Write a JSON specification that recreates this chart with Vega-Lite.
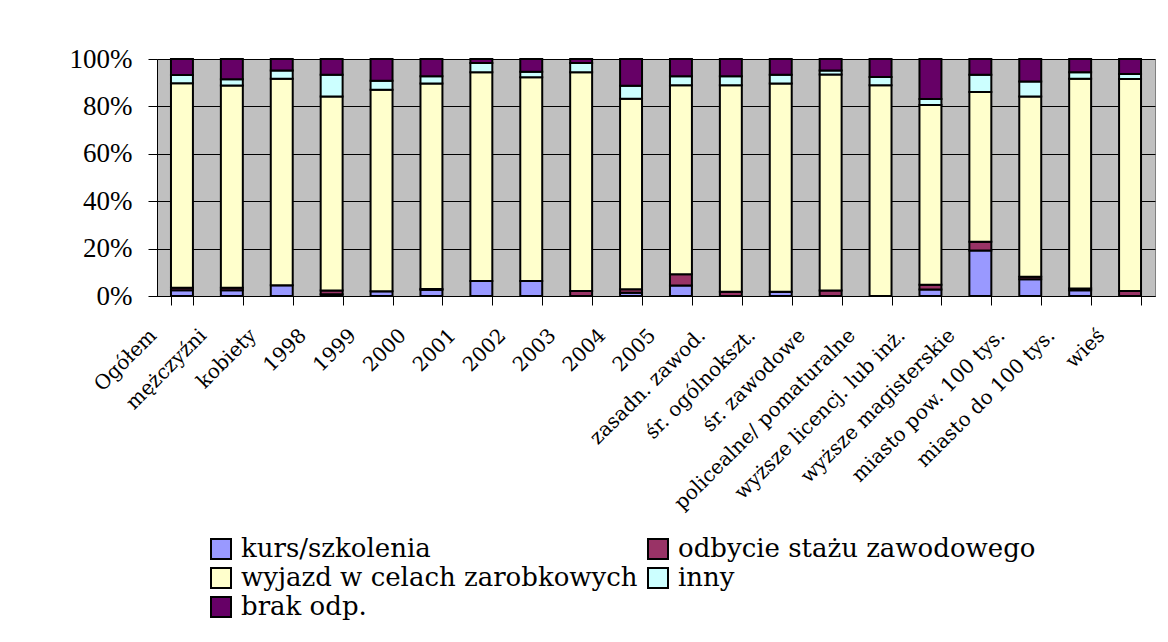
{
  "$schema": "https://vega.github.io/schema/vega-lite/v6.json",
  "width": 998,
  "height": 237,
  "autosize": {"type": "none"},
  "padding": {"left": 157, "top": 59, "right": 13, "bottom": 346},
  "background": "white",
  "datasets": {
    "rows": [
      {"grupa": "Ogółem", "k": 2.4, "o": 1.1, "w": 86.3, "i": 3.5, "b": 6.7},
      {"grupa": "mężczyźni", "k": 2.4, "o": 1.1, "w": 85.3, "i": 2.7, "b": 8.5},
      {"grupa": "kobiety", "k": 4.5, "o": 0, "w": 87.2, "i": 3.5, "b": 4.8},
      {"grupa": "1998", "k": 0.7, "o": 1.6, "w": 81.9, "i": 9.2, "b": 6.6},
      {"grupa": "1999", "k": 2.0, "o": 0, "w": 85.0, "i": 3.8, "b": 9.2},
      {"grupa": "2000", "k": 2.6, "o": 0.4, "w": 86.7, "i": 3.0, "b": 7.3},
      {"grupa": "2001", "k": 6.3, "o": 0, "w": 88.1, "i": 3.9, "b": 1.7},
      {"grupa": "2002", "k": 6.3, "o": 0, "w": 86.0, "i": 2.3, "b": 5.4},
      {"grupa": "2003", "k": 0, "o": 2.1, "w": 92.3, "i": 3.9, "b": 1.7},
      {"grupa": "2004", "k": 1.4, "o": 1.5, "w": 80.3, "i": 5.5, "b": 11.3},
      {"grupa": "2005", "k": 4.4, "o": 4.8, "w": 79.7, "i": 3.8, "b": 7.3},
      {"grupa": "zasadn. zawod.", "k": 0, "o": 1.8, "w": 87.1, "i": 3.8, "b": 7.3},
      {"grupa": "śr. ogólnokszt.", "k": 1.8, "o": 0, "w": 87.9, "i": 3.7, "b": 6.6},
      {"grupa": "śr. zawodowe", "k": 0, "o": 2.3, "w": 91.2, "i": 1.7, "b": 4.8},
      {"grupa": "policealne/ pomaturalne", "k": 0, "o": 0, "w": 88.9, "i": 3.5, "b": 7.6},
      {"grupa": "wyższe licencj. lub inż.", "k": 2.7, "o": 2.0, "w": 75.9, "i": 2.5, "b": 16.9},
      {"grupa": "wyższe magisterskie", "k": 19.2, "o": 3.7, "w": 63.2, "i": 7.3, "b": 6.6},
      {"grupa": "miasto pow. 100 tys.", "k": 7.1, "o": 1.0, "w": 76.1, "i": 6.3, "b": 9.5},
      {"grupa": "miasto do 100 tys.", "k": 2.4, "o": 0.8, "w": 88.5, "i": 2.7, "b": 5.6},
      {"grupa": "wieś", "k": 0, "o": 2.1, "w": 89.5, "i": 2.1, "b": 6.3}
    ],
    "serie": [
      {"key": "k", "seria": "kurs/szkolenia", "kolejnosc": 1},
      {"key": "o", "seria": "odbycie stażu zawodowego", "kolejnosc": 2},
      {"key": "w", "seria": "wyjazd w celach zarobkowych", "kolejnosc": 3},
      {"key": "i", "seria": "inny", "kolejnosc": 4},
      {"key": "b", "seria": "brak odp.", "kolejnosc": 5}
    ]
  },
  "data": {"name": "rows"},
  "transform": [
    {"fold": ["k", "o", "w", "i", "b"], "as": ["key", "wartosc"]},
    {"lookup": "key", "from": {"data": {"name": "serie"}, "key": "key", "fields": ["seria", "kolejnosc"]}}
  ],
  "mark": {"type": "bar", "stroke": "black", "strokeWidth": 2, "opacity": 1},
  "encoding": {
    "x": {
      "field": "grupa",
      "type": "nominal",
      "sort": null,
      "scale": {"paddingInner": 0.56, "paddingOuter": 0.28},
      "axis": {
        "title": null,
        "labelAngle": -45,
        "labelAlign": "right",
        "labelBaseline": "middle",
        "labelPadding": 27,
        "labelOffset": -29,
        "labelFont": "DejaVu Serif",
        "labelFontSize": 20,
        "labelLimit": 0,
        "labelOverlap": false,
        "tickBand": "extent",
        "tickSize": 9,
        "grid": false
      }
    },
    "y": {
      "field": "wartosc",
      "type": "quantitative",
      "stack": "normalize",
      "scale": {"domain": [0, 1], "nice": false},
      "axis": {
        "title": null,
        "format": ".0%",
        "values": [0, 0.2, 0.4, 0.6, 0.8, 1],
        "grid": true,
        "gridColor": "black",
        "gridWidth": 1,
        "tickSize": 9,
        "labelFont": "Liberation Serif",
        "labelFontSize": 27,
        "labelPadding": 16
      }
    },
    "color": {
      "field": "seria",
      "type": "nominal",
      "scale": {
        "domain": ["kurs/szkolenia", "odbycie stażu zawodowego", "wyjazd w celach zarobkowych", "inny", "brak odp."],
        "range": ["#9999FF", "#993366", "#FFFFCC", "#CCFFFF", "#660066"]
      },
      "legend": {
        "title": null,
        "orient": "none",
        "direction": "horizontal",
        "legendX": 51,
        "legendY": 477,
        "columns": 2,
        "columnPadding": 6,
        "rowPadding": 1,
        "symbolType": "square",
        "symbolSize": 400,
        "symbolStrokeColor": "black",
        "symbolStrokeWidth": 2,
        "symbolOpacity": 1,
        "labelFontSize": 26,
        "labelFont": "DejaVu Serif",
        "labelColor": "black",
        "labelOffset": 7,
        "labelLimit": 0
      }
    },
    "order": {"field": "kolejnosc", "type": "quantitative"}
  },
  "config": {
    "font": "Liberation Serif",
    "view": {"fill": "#c0c0c0", "stroke": "#808080", "strokeWidth": 1},
    "axis": {
      "labelColor": "black",
      "domainColor": "black",
      "domainWidth": 1,
      "tickColor": "black",
      "tickWidth": 1
    },
    "legend": {
      "labelFont": "DejaVu Serif",
      "labelFontSize": 26,
      "labelColor": "black",
      "labelLimit": 0
    }
  }
}
